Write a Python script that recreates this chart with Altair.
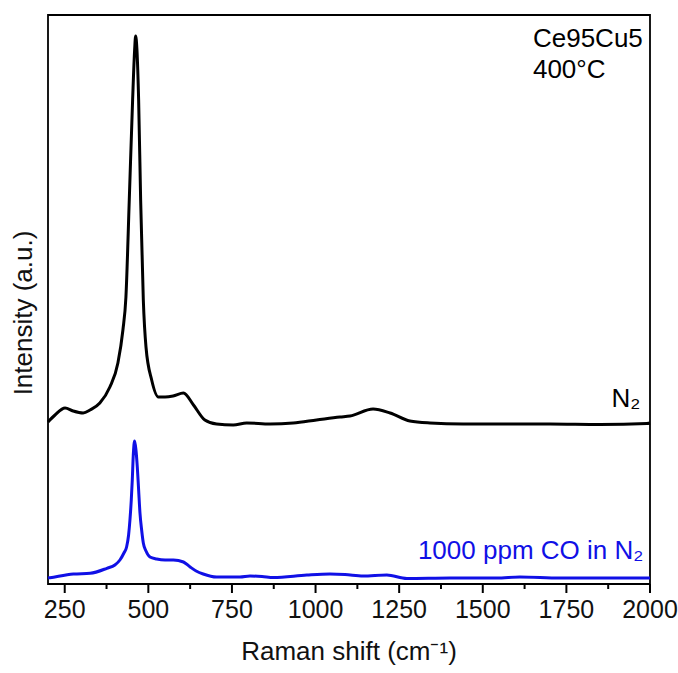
import altair as alt
import pandas as pd

# N2 spectrum (black)
n2_shift = [200, 221, 251, 275, 305, 326, 355, 385, 409, 424, 433, 443, 453, 459, 462,
            466, 471, 477, 485, 493, 510, 530, 550, 574, 605, 635, 669, 704, 754, 794,
            864, 933, 1003, 1073, 1103, 1172, 1223, 1282, 1342, 1441, 1552, 1701, 1851, 1991, 2000]
n2_int = [162, 169, 176, 173, 171, 174, 181, 197, 221, 254, 287, 384, 484, 534, 548,
          534, 484, 384, 284, 237, 204, 187, 187, 188, 191, 179, 164, 160, 159, 161,
          160, 161, 164, 167, 168, 175, 171, 163, 161, 160, 160, 160, 159.5, 160.5, 161]

# 1000 ppm CO in N2 spectrum (blue)
co_shift = [200, 206, 276, 326, 376, 400, 415, 427, 435, 441, 445, 449, 452, 455, 459,
            463, 467, 471, 475, 480, 485, 493, 505, 525, 550, 575, 605, 625, 643, 664,
            704, 774, 804, 840, 874, 974, 1043, 1088, 1142, 1213, 1273, 1402, 1542, 1611,
            1731, 1851, 1991, 2000]
co_int = [6, 6.3, 10, 10.7, 15.7, 19, 24, 31, 37, 49, 64, 84, 104, 129, 143,
          134, 117, 94, 71, 54, 41, 33, 27, 25, 24, 24, 22, 17, 13, 10,
          7, 7, 8, 7.5, 6.5, 9, 10, 9.5, 8, 9, 5.5, 6, 6, 7,
          6, 6, 6, 6]

major_ticks = [250, 500, 750, 1000, 1250, 1500, 1750, 2000]
minor_ticks = [375, 625, 875, 1125, 1375, 1625, 1875]

ann_text = ["Ce95Cu5", "400°C", "N₂", "1000 ppm CO in N₂"]
ann_x = [1650, 1650, 1885, 1306]
ann_y = [537, 506, 177, 25]
ann_color = ["black", "black", "black", "#1010e6"]

x_title = "Raman shift (cm⁻¹)"
y_title = "Intensity (a.u.)"

FONT = "Liberation Sans"
W, H = 602, 569

df = pd.concat([
    pd.DataFrame({"shift": n2_shift, "intensity": n2_int, "series": "N2"}),
    pd.DataFrame({"shift": co_shift, "intensity": co_int, "series": "CO"}),
])
ann = pd.DataFrame({"shift": ann_x, "intensity": ann_y, "text": ann_text, "color": ann_color})
major_df = pd.DataFrame({"shift": major_ticks, "label": [str(v) for v in major_ticks]})
minor_df = pd.DataFrame({"shift": minor_ticks})
title_df = pd.DataFrame({"t": [x_title]})
ytitle_df = pd.DataFrame({"t": [y_title]})

x_scale = alt.Scale(domain=[200, 2000], nice=False, zero=False)
y_scale = alt.Scale(domain=[0, 569], nice=False, zero=False)

lines = alt.Chart(df).mark_line(strokeWidth=3, interpolate="monotone").encode(
    x=alt.X("shift:Q", scale=x_scale, axis=None),
    y=alt.Y("intensity:Q", scale=y_scale, axis=None),
    color=alt.Color("series:N", scale=alt.Scale(domain=["N2", "CO"], range=["black", "#1010e6"]), legend=None),
    detail="series:N",
)

major_rules = alt.Chart(major_df).mark_rule(color="black", strokeWidth=2, clip=False).encode(
    x=alt.X("shift:Q", scale=x_scale, axis=None),
    y=alt.value(H),
    y2=alt.value(H + 9),
)

minor_rules = alt.Chart(minor_df).mark_rule(color="black", strokeWidth=2, clip=False).encode(
    x=alt.X("shift:Q", scale=x_scale, axis=None),
    y=alt.value(H),
    y2=alt.value(H + 5),
)

tick_labels = alt.Chart(major_df).mark_text(
    align="center", baseline="top", font=FONT, fontSize=25, color="#111", clip=False
).encode(
    x=alt.X("shift:Q", scale=x_scale, axis=None),
    y=alt.value(H + 14),
    text="label:N",
)

xtitle = alt.Chart(title_df).mark_text(
    align="center", baseline="top", font=FONT, fontSize=26, color="#111", clip=False
).encode(
    x=alt.value(W / 2),
    y=alt.value(H + 55),
    text="t:N",
)

ytitle = alt.Chart(ytitle_df).mark_text(
    align="center", baseline="middle", font=FONT, fontSize=26, color="#111", angle=270, clip=False
).encode(
    x=alt.value(-24),
    y=alt.value(298),
    text="t:N",
)

texts = alt.Chart(ann).mark_text(align="left", baseline="alphabetic", font=FONT, fontSize=26).encode(
    x=alt.X("shift:Q", scale=x_scale, axis=None),
    y=alt.Y("intensity:Q", scale=y_scale, axis=None),
    text="text:N",
    color=alt.Color("color:N", scale=None),
)

chart = alt.layer(lines, major_rules, minor_rules, tick_labels, xtitle, ytitle, texts).properties(
    width=W,
    height=H,
    autosize=alt.AutoSizeParams(type="none"),
    padding={"left": 48, "top": 15, "right": 28, "bottom": 89},
).configure(background="white").configure_view(stroke="black", strokeWidth=1.8)

chart.save("out.html", embed_options={"renderer": "svg", "actions": False})
